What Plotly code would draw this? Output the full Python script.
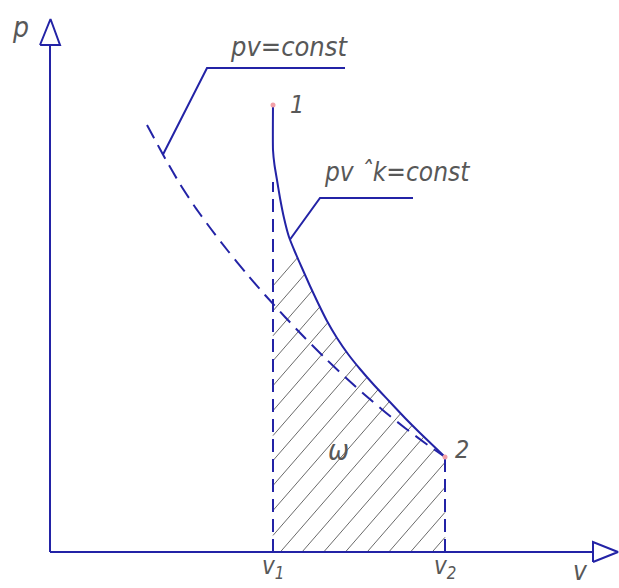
import numpy as np
import plotly.graph_objects as go

# Specific volume at the two states and the pressures there
V1, V2 = 22.3, 39.5
P1, P2 = 44.7, 9.5

# Polytropic expansion pv^k = const (solid curve from state 1 to state 2)
poly_v = [22.3, 22.3, 22.45, 22.7, 23.0, 23.4, 23.9, 24.5, 25.2, 26.0, 26.8,
          27.7, 28.7, 29.8, 31.0, 32.4, 33.9, 35.5, 37.0, 39.5]
poly_p = [44.7, 40.2, 38.7, 37.2, 35.4, 33.4, 31.5, 30.0, 28.4, 26.6, 24.9,
          23.1, 21.4, 19.8, 18.3, 16.7, 15.1, 13.4, 11.9, 9.5]

# Isotherm pv = const through state 2 (dashed)
iso_v = [9.7, 10.4, 11.6, 13.0, 14.5, 16.1, 17.8, 19.6, 21.5, 23.5, 25.5,
         27.5, 29.5, 31.5, 33.5, 35.5, 37.5, 39.5]
iso_p = [42.7, 41.4, 39.2, 36.8, 34.5, 32.3, 30.1, 27.9, 25.7, 23.5, 21.4,
         19.4, 17.5, 15.7, 14.0, 12.4, 10.9, 9.5]

BLUE = "#2323a6"
GREY = "#585858"
HATCH = "#6a6a6a"
FONT = "Liberation Sans Narrow, DejaVu Sans Condensed, sans-serif"

X_RANGE = [-5.0, 56.9]
Y_RANGE = [-3.6, 55.2]

fig = go.Figure()

# --- work area hatching between v1, v2, the polytrope and the v axis ---
bv = np.array(poly_v[1:])
bp = np.array(poly_p[1:])


def upper(v):
    return np.interp(v, bv, bp)


slope = 1.15
step = 2.17
hx, hy = [], []
for x0 in np.arange(25.2 - 12 * step, V2 + step, step):
    vs = max(V1, x0)
    if vs >= V2:
        continue
    f = lambda v: slope * (v - x0) - upper(v)
    if f(vs) >= 0:
        continue
    if f(V2) <= 0:
        ve = V2
    else:
        lo, hi = vs, V2
        for _ in range(60):
            mid = 0.5 * (lo + hi)
            if f(mid) < 0:
                lo = mid
            else:
                hi = mid
        ve = lo
    hx += [vs, ve, None]
    hy += [slope * (vs - x0), slope * (ve - x0), None]

fig.add_trace(go.Scatter(x=hx, y=hy, mode="lines",
                         line=dict(color=HATCH, width=1), hoverinfo="skip"))

# --- axes with open arrow heads ---
fig.add_trace(go.Scatter(x=[0, 0], y=[0, 50.7], mode="lines",
                         line=dict(color=BLUE, width=2), hoverinfo="skip"))
fig.add_trace(go.Scatter(x=[0, 54.3], y=[0, 0], mode="lines",
                         line=dict(color=BLUE, width=2), hoverinfo="skip"))
fig.add_trace(go.Scatter(x=[-1.0, 1.0, 0.05, -1.0], y=[50.7, 50.7, 53.3, 50.7],
                         mode="lines", fill="toself", fillcolor="white",
                         line=dict(color=BLUE, width=2), hoverinfo="skip"))
fig.add_trace(go.Scatter(x=[54.3, 54.3, 56.8, 54.3], y=[-1.0, 1.0, 0.0, -1.0],
                         mode="lines", fill="toself", fillcolor="white",
                         line=dict(color=BLUE, width=2), hoverinfo="skip"))

# --- ordinates at v1 and v2 ---
fig.add_trace(go.Scatter(x=[V1, V1], y=[0, 37.0], mode="lines",
                         line=dict(color=BLUE, width=2, dash="13px,7px"),
                         hoverinfo="skip"))
fig.add_trace(go.Scatter(x=[V2, V2], y=[0, P2], mode="lines",
                         line=dict(color=BLUE, width=2, dash="13px,7px"),
                         hoverinfo="skip"))

# --- isotherm and polytrope ---
fig.add_trace(go.Scatter(x=iso_v, y=iso_p, mode="lines",
                         line=dict(color=BLUE, width=2, dash="15px,8px",
                                   shape="spline", smoothing=0.6),
                         hoverinfo="skip"))
fig.add_trace(go.Scatter(x=poly_v, y=poly_p, mode="lines",
                         line=dict(color=BLUE, width=2, shape="spline",
                                   smoothing=0.5),
                         hoverinfo="skip"))

# --- leader lines for the curve captions ---
iso_at = float(np.interp(11.3, iso_v, iso_p))
fig.add_trace(go.Scatter(x=[11.3, 15.7, 29.5], y=[iso_at, 48.4, 48.4],
                         mode="lines", line=dict(color=BLUE, width=2),
                         hoverinfo="skip"))
fig.add_trace(go.Scatter(x=[24.0, 27.0, 36.3], y=[float(upper(24.0)), 35.4, 35.4],
                         mode="lines", line=dict(color=BLUE, width=2),
                         hoverinfo="skip"))

# --- state points ---
fig.add_trace(go.Scatter(x=[V1, V2], y=[P1, P2], mode="markers",
                         marker=dict(color="#f2a0a8", size=5), hoverinfo="skip"))


def label(x, y, text, size, xanchor="center"):
    fig.add_annotation(x=x, y=y, text=text, showarrow=False, xanchor=xanchor,
                       yanchor="middle",
                       font=dict(family=FONT, size=size, color=GREY, style="italic"))


label(17.8, 50.6, "pv=const", 27, "left")
label(27.2, 38.0, "pv \u02c6k=const", 26, "left")
label(24.7, 44.8, "1", 25)
label(41.2, 10.3, "2", 25)
label(28.8, 10.2, "\u03c9", 28)
label(V1, -1.5, "v<sub>1</sub>", 24)
label(V2, -1.5, "v<sub>2</sub>", 24)
label(53.0, -1.9, "v", 26)
label(-3.0, 52.5, "p", 28)

fig.update_layout(
    width=619, height=588,
    margin=dict(l=0, r=0, t=0, b=0),
    paper_bgcolor="white", plot_bgcolor="white",
    showlegend=False,
    xaxis=dict(range=X_RANGE, visible=False, fixedrange=True),
    yaxis=dict(range=Y_RANGE, visible=False, fixedrange=True),
)

fig.write_html("out.html")
